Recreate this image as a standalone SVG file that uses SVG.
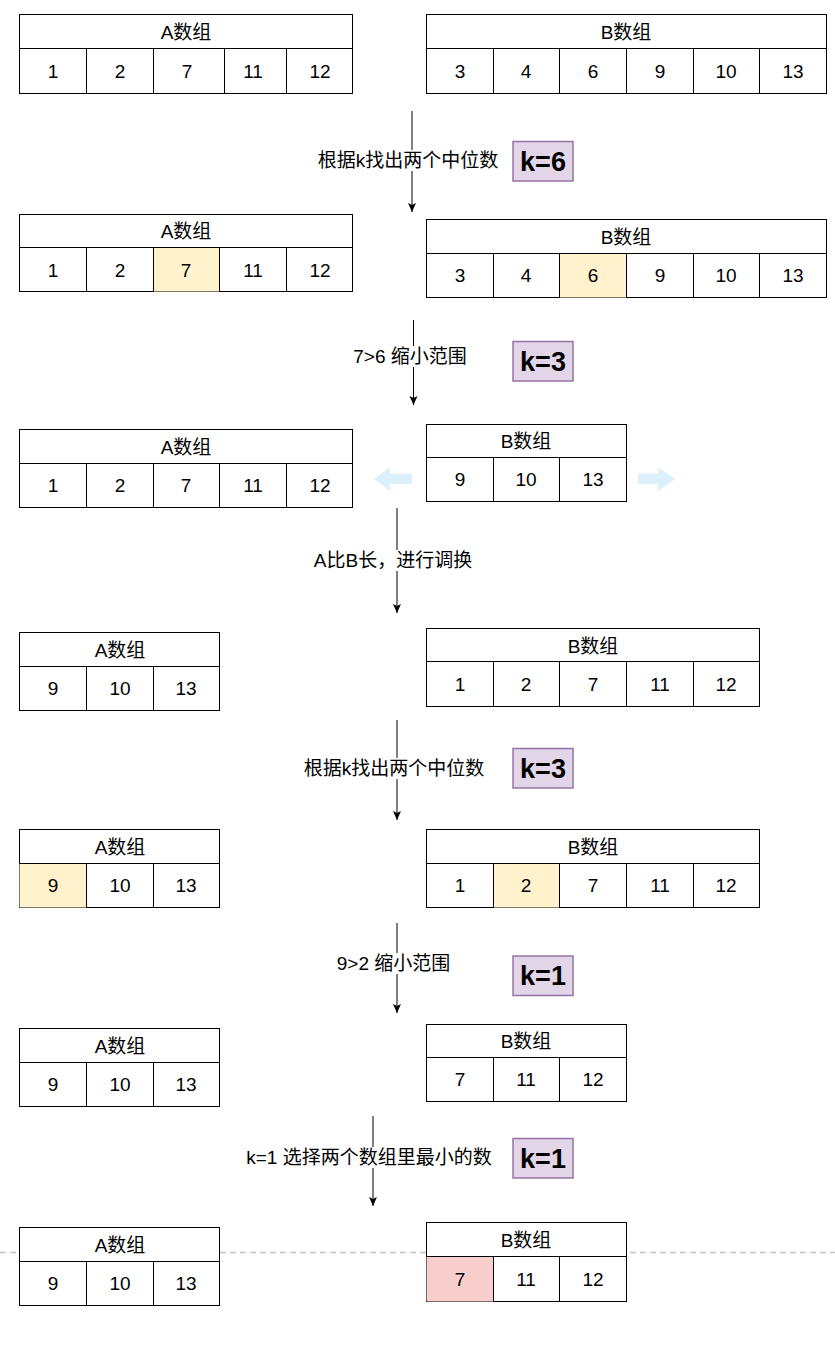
<svg xmlns="http://www.w3.org/2000/svg" width="835" height="1353" viewBox="0 0 835 1353">
<style>
.box{fill:#fff;stroke:#000;stroke-width:1}
.ln{stroke:#000;stroke-width:1;fill:none}
.hl{fill:#fff2cc}
.red{fill:#f8cecc}
.t{font-family:"Liberation Sans","Noto Sans CJK SC",sans-serif;font-size:19px;fill:#000;text-anchor:middle;dominant-baseline:central}
.k{fill:#e1d5e7;stroke:#9673a6;stroke-width:1.5}
.kt{font-family:"Liberation Sans",sans-serif;font-size:27px;font-weight:bold;fill:#000;text-anchor:middle;dominant-baseline:central}
.edge{stroke:#000;stroke-width:1;fill:none}
.lbg{fill:#fff}
.blue{fill:#dcf0fb}
</style>
<defs>
<marker id="ah" markerUnits="userSpaceOnUse" markerWidth="10" markerHeight="10" viewBox="0 0 10 10" refX="9" refY="5" orient="auto">
<path d="M0,1 L9,5 L0,9 L2,5 z" fill="#000"/>
</marker>
</defs>
<rect width="835" height="1353" fill="#fff"/>
<line x1="0" y1="1252.5" x2="835" y2="1252.5" stroke="#c4c4c4" stroke-width="1.5" stroke-dasharray="6 4"/>

<g id="row1-A">
<rect class="box" x="19.5" y="14.5" width="333" height="79"/>
<path class="ln" d="M19.5 48.5H352.5M86.5 48.5V93.5M153.5 48.5V93.5M224.5 48.5V93.5M286.5 48.5V93.5"/>
<text class="t" x="186" y="32">A数组</text>
<text class="t" x="53" y="71">1</text><text class="t" x="120" y="71">2</text><text class="t" x="187" y="71">7</text><text class="t" x="253" y="71">11</text><text class="t" x="320" y="71">12</text>
</g>
<g id="row1-B">
<rect class="box" x="426.5" y="14.5" width="400" height="79"/>
<path class="ln" d="M426.5 48.5H826.5M493.5 48.5V93.5M559.5 48.5V93.5M626.5 48.5V93.5M693.5 48.5V93.5M759.5 48.5V93.5"/>
<text class="t" x="626" y="32">B数组</text>
<text class="t" x="460" y="71">3</text><text class="t" x="526" y="71">4</text><text class="t" x="593" y="71">6</text><text class="t" x="660" y="71">9</text><text class="t" x="726" y="71">10</text><text class="t" x="793" y="71">13</text>
</g>

<g id="row2-A">
<rect class="box" x="19.5" y="214.5" width="333" height="77"/>
<rect class="hl" x="153.5" y="247.5" width="66" height="44"/>
<path class="ln" d="M19.5 247.5H352.5M86.5 247.5V291.5M153.5 247.5V291.5M219.5 247.5V291.5M286.5 247.5V291.5"/>
<text class="t" x="186" y="231">A数组</text>
<text class="t" x="53" y="270">1</text><text class="t" x="120" y="270">2</text><text class="t" x="186" y="270">7</text><text class="t" x="253" y="270">11</text><text class="t" x="320" y="270">12</text>
</g>
<g id="row2-B">
<rect class="box" x="426.5" y="219.5" width="400" height="78"/>
<rect class="hl" x="559.5" y="253.5" width="67" height="44"/>
<path class="ln" d="M426.5 253.5H826.5M493.5 253.5V297.5M559.5 253.5V297.5M626.5 253.5V297.5M693.5 253.5V297.5M759.5 253.5V297.5"/>
<text class="t" x="626" y="237">B数组</text>
<text class="t" x="460" y="275">3</text><text class="t" x="526" y="275">4</text><text class="t" x="593" y="275">6</text><text class="t" x="660" y="275">9</text><text class="t" x="726" y="275">10</text><text class="t" x="793" y="275">13</text>
</g>

<g id="row3-A">
<rect class="box" x="19.5" y="429.5" width="333" height="78"/>
<path class="ln" d="M19.5 463.5H352.5M86.5 463.5V507.5M153.5 463.5V507.5M219.5 463.5V507.5M286.5 463.5V507.5"/>
<text class="t" x="186" y="447">A数组</text>
<text class="t" x="53" y="485">1</text><text class="t" x="120" y="485">2</text><text class="t" x="186" y="485">7</text><text class="t" x="253" y="485">11</text><text class="t" x="320" y="485">12</text>
</g>
<g id="row3-B">
<rect class="box" x="426.5" y="424.5" width="200" height="77"/>
<path class="ln" d="M426.5 457.5H626.5M493.5 457.5V501.5M559.5 457.5V501.5"/>
<text class="t" x="526" y="441">B数组</text>
<text class="t" x="460" y="479">9</text><text class="t" x="526" y="479">10</text><text class="t" x="593" y="479">13</text>
</g>
<g id="shift-arrows">
<path class="blue" d="M374 479 L390 467 L390 473.5 L412 473.5 L412 484 L390 484 L390 491 Z"/>
<path class="blue" d="M675 479 L658 467 L658 473.5 L638 473.5 L638 484 L658 484 L658 491 Z"/>
</g>

<g id="row4-A">
<rect class="box" x="19.5" y="632.5" width="200" height="78"/>
<path class="ln" d="M19.5 666.5H219.5M86.5 666.5V710.5M153.5 666.5V710.5"/>
<text class="t" x="120" y="650">A数组</text>
<text class="t" x="53" y="688">9</text><text class="t" x="120" y="688">10</text><text class="t" x="186" y="688">13</text>
</g>
<g id="row4-B">
<rect class="box" x="426.5" y="628.5" width="333" height="78"/>
<path class="ln" d="M426.5 661.5H759.5M493.5 661.5V706.5M559.5 661.5V706.5M626.5 661.5V706.5M693.5 661.5V706.5"/>
<text class="t" x="593" y="646">B数组</text>
<text class="t" x="460" y="684">1</text><text class="t" x="526" y="684">2</text><text class="t" x="593" y="684">7</text><text class="t" x="660" y="684">11</text><text class="t" x="726" y="684">12</text>
</g>

<g id="row5-A">
<rect class="box" x="19.5" y="829.5" width="200" height="78"/>
<rect class="hl" x="19.5" y="863.5" width="67" height="44"/>
<path class="ln" d="M19.5 863.5H219.5M86.5 863.5V907.5M153.5 863.5V907.5"/>
<text class="t" x="120" y="847">A数组</text>
<text class="t" x="53" y="885">9</text><text class="t" x="120" y="885">10</text><text class="t" x="186" y="885">13</text>
</g>
<g id="row5-B">
<rect class="box" x="426.5" y="829.5" width="333" height="78"/>
<rect class="hl" x="493.5" y="863.5" width="66" height="44"/>
<path class="ln" d="M426.5 863.5H759.5M493.5 863.5V907.5M559.5 863.5V907.5M626.5 863.5V907.5M693.5 863.5V907.5"/>
<text class="t" x="593" y="847">B数组</text>
<text class="t" x="460" y="885">1</text><text class="t" x="526" y="885">2</text><text class="t" x="593" y="885">7</text><text class="t" x="660" y="885">11</text><text class="t" x="726" y="885">12</text>
</g>

<g id="row6-A">
<rect class="box" x="19.5" y="1028.5" width="200" height="78"/>
<path class="ln" d="M19.5 1062.5H219.5M86.5 1062.5V1106.5M153.5 1062.5V1106.5"/>
<text class="t" x="120" y="1046">A数组</text>
<text class="t" x="53" y="1084">9</text><text class="t" x="120" y="1084">10</text><text class="t" x="186" y="1084">13</text>
</g>
<g id="row6-B">
<rect class="box" x="426.5" y="1024.5" width="200" height="77"/>
<path class="ln" d="M426.5 1057.5H626.5M493.5 1057.5V1101.5M559.5 1057.5V1101.5"/>
<text class="t" x="526" y="1041">B数组</text>
<text class="t" x="460" y="1079">7</text><text class="t" x="526" y="1079">11</text><text class="t" x="593" y="1079">12</text>
</g>

<g id="row7-A">
<rect class="box" x="19.5" y="1227.5" width="200" height="78"/>
<path class="ln" d="M19.5 1261.5H219.5M86.5 1261.5V1305.5M153.5 1261.5V1305.5"/>
<text class="t" x="120" y="1245">A数组</text>
<text class="t" x="53" y="1283">9</text><text class="t" x="120" y="1283">10</text><text class="t" x="186" y="1283">13</text>
</g>
<g id="row7-B">
<rect class="box" x="426.5" y="1222.5" width="200" height="79"/>
<rect class="red" x="426.5" y="1256.5" width="67" height="45"/>
<path class="ln" d="M426.5 1256.5H626.5M493.5 1256.5V1301.5M559.5 1256.5V1301.5"/>
<text class="t" x="526" y="1240">B数组</text>
<text class="t" x="460" y="1279">7</text><text class="t" x="526" y="1279">11</text><text class="t" x="593" y="1279">12</text>
</g>

<g id="k-boxes">
<g id="k1"><rect class="k" x="513" y="141.5" width="60" height="39.5"/><text class="kt" x="543" y="161.5">k=6</text></g>
<g id="k2"><rect class="k" x="513" y="341.5" width="60" height="39.5"/><text class="kt" x="543" y="361.5">k=3</text></g>
<g id="k3"><rect class="k" x="513" y="748.5" width="60" height="39.5"/><text class="kt" x="543" y="768.5">k=3</text></g>
<g id="k4"><rect class="k" x="513" y="956" width="60" height="39.5"/><text class="kt" x="543" y="976">k=1</text></g>
<g id="k5"><rect class="k" x="513" y="1138.5" width="60" height="39.5"/><text class="kt" x="543" y="1158.5">k=1</text></g>
</g>

<g id="connectors">
<line class="edge" x1="412" y1="111" x2="412" y2="212" marker-end="url(#ah)"/>
<rect class="lbg" x="318" y="150" width="180" height="21"/>
<text class="t" x="408" y="160">根据k找出两个中位数</text>

<line class="edge" x1="413.5" y1="320" x2="413.5" y2="405" marker-end="url(#ah)"/>
<rect class="lbg" x="354" y="346" width="112" height="21"/>
<text class="t" x="410" y="356">7&gt;6 缩小范围</text>

<line class="edge" x1="397" y1="508" x2="397" y2="613" marker-end="url(#ah)"/>
<rect class="lbg" x="313" y="550" width="160" height="21"/>
<text class="t" x="393" y="560">A比B长，进行调换</text>

<line class="edge" x1="397" y1="720" x2="397" y2="820" marker-end="url(#ah)"/>
<rect class="lbg" x="304" y="758" width="180" height="21"/>
<text class="t" x="394" y="768">根据k找出两个中位数</text>

<line class="edge" x1="397" y1="923" x2="397" y2="1013" marker-end="url(#ah)"/>
<rect class="lbg" x="337" y="953" width="114" height="21"/>
<text class="t" x="393.5" y="963">9&gt;2 缩小范围</text>

<line class="edge" x1="373" y1="1116" x2="373" y2="1206" marker-end="url(#ah)"/>
<rect class="lbg" x="247" y="1147" width="244" height="21"/>
<text class="t" x="369" y="1157">k=1 选择两个数组里最小的数</text>
</g>
</svg>
